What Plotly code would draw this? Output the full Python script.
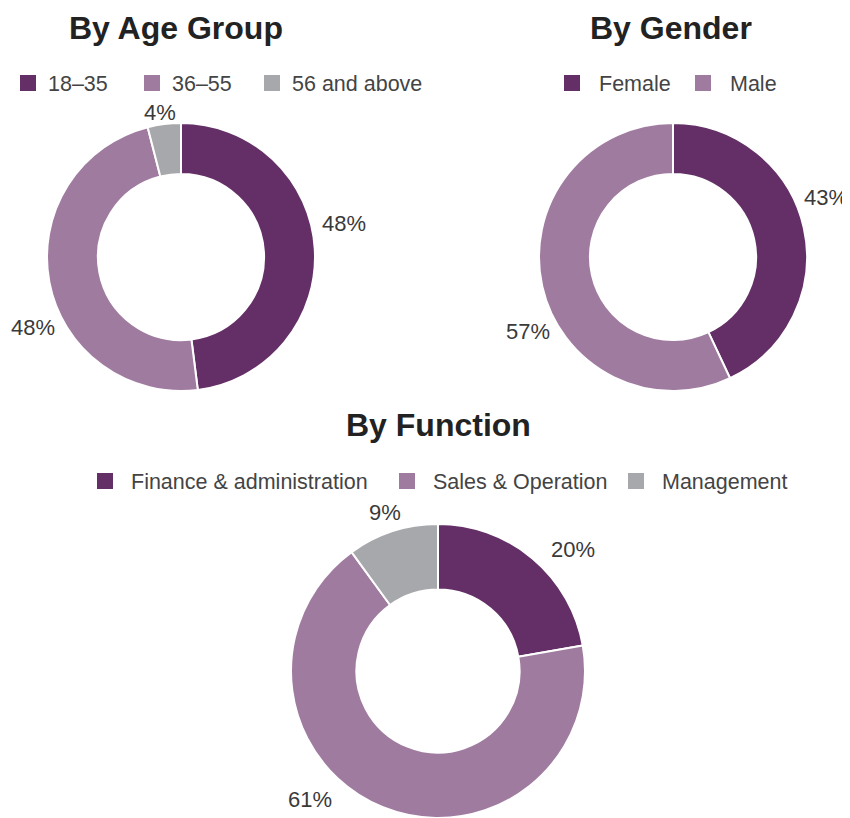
import plotly.graph_objects as go

# ---- data ----
age_labels = ["18–35", "36–55", "56 and above"]
age_values = [48, 48, 4]

gender_labels = ["Female", "Male"]
gender_values = [43, 57]

func_labels = ["Finance & administration", "Sales & Operation", "Management"]
func_values = [20, 61, 9]

colors = ["#632f66", "#a07ba0", "#a7a8ab"]

# ---- layout (pixel positions in the 850x818 page) ----
# the page has an 8px body margin, so the figure is drawn 8px smaller and all
# page pixel positions are shifted by that offset
OFF = 8
W, H = 850 - OFF, 818 - OFF
FONT = "Liberation Sans"
LABEL_SIZE = 22
LABEL_COLOR = "#3a3a3a"

# percentage label centres, one per slice
age_label_pos = [(344, 224), (33, 327), (160, 112)]
gender_label_pos = [(826, 198), (528, 331)]
func_label_pos = [(573, 549), (310, 799), (385, 512)]


def px_x(v):
    return (v - OFF) / W


def px_y(v):
    return 1 - (v - OFF) / H


fig = go.Figure()
annotations = []


def add_pie(labels, values, dom_x, dom_y, hole, label_pos):
    fig.add_trace(go.Pie(
        labels=labels, values=values, sort=False, direction="clockwise",
        rotation=0, hole=hole,
        marker=dict(colors=colors[:len(values)], line=dict(color="white", width=2)),
        textinfo="none",
        domain=dict(x=dom_x, y=dom_y),
        showlegend=False, hoverinfo="label+value",
    ))
    for v, (x, y) in zip(values, label_pos):
        annotations.append(dict(
            text=f"{v}%", x=px_x(x), y=px_y(y), xref="paper", yref="paper",
            xanchor="center", yanchor="middle", showarrow=False,
            font=dict(family=FONT, size=LABEL_SIZE, color=LABEL_COLOR),
        ))


add_pie(age_labels, age_values, [px_x(47), px_x(315)], [px_y(391), px_y(123)], 0.62, age_label_pos)
add_pie(gender_labels, gender_values, [px_x(539), px_x(807)], [px_y(391), px_y(123)], 0.62, gender_label_pos)
add_pie(func_labels, func_values, [px_x(290), px_x(586)], [0, px_y(524)], 0.555, func_label_pos)


def add_legend_items(labels, legend_id, widths):
    for i, (lab, w) in enumerate(zip(labels, widths)):
        fig.add_trace(go.Scatter(
            x=[None], y=[None], mode="markers", name=lab,
            marker=dict(symbol="square", size=16, color=colors[i], line=dict(width=0)),
            legend=legend_id, legendwidth=w, showlegend=True, hoverinfo="skip",
        ))


add_legend_items(age_labels, "legend", [79, 75, 140])
add_legend_items(gender_labels, "legend2", [72, 60])
add_legend_items(func_labels, "legend3", [245, 172, 140])

leg_font = dict(family=FONT, size=21.5, color="#444444")
common_leg = dict(orientation="h", xanchor="left", yanchor="middle",
                  font=leg_font, bgcolor="rgba(0,0,0,0)", borderwidth=0,
                  traceorder="normal")

titles = [("By Age Group", 175.5, 28), ("By Gender", 671, 28), ("By Function", 438.5, 425)]
for t, x, y in titles:
    annotations.append(dict(
        text=f"<b>{t}</b>", x=px_x(x), y=px_y(y), xref="paper", yref="paper",
        xanchor="center", yanchor="middle", showarrow=False,
        font=dict(family=FONT, size=32, color="#222222"),
    ))

fig.update_layout(
    width=W, height=H,
    margin=dict(l=0, r=0, t=0, b=0, autoexpand=False),
    paper_bgcolor="white", plot_bgcolor="white",
    showlegend=True,
    xaxis=dict(visible=False), yaxis=dict(visible=False),
    legend=dict(x=0, y=px_y(83), itemwidth=30, **common_leg),
    legend2=dict(x=px_x(545), y=px_y(83), itemwidth=44, **common_leg),
    legend3=dict(x=px_x(79), y=px_y(481), itemwidth=42, **common_leg),
    annotations=annotations,
)

fig.write_html("out.html")
